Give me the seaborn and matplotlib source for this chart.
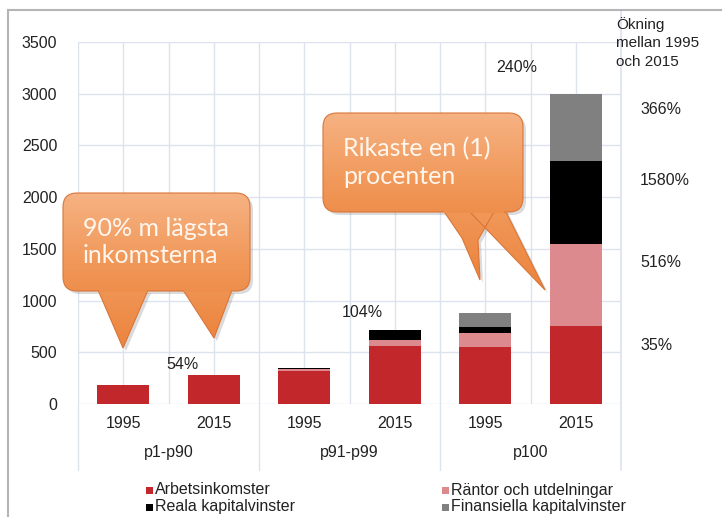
import matplotlib
matplotlib.use("Agg")
import matplotlib.pyplot as plt
import seaborn as sns
import numpy as np
import pandas as pd
from matplotlib.patches import FancyBboxPatch, Polygon, Rectangle
from matplotlib.lines import Line2D
from matplotlib.colors import LinearSegmentedColormap

# ---- data ----
categories = ["p1-p90 1995", "p1-p90 2015", "p91-p99 1995", "p91-p99 2015", "p100 1995", "p100 2015"]
year_labels = ["1995", "2015", "1995", "2015", "1995", "2015"]
group_labels = ["p1-p90", "p91-p99", "p100"]
arbets = [180, 277, 320, 560, 554, 757]
rantor = [0, 0, 15, 55, 136, 790]
reala = [0, 0, 10, 105, 50, 806]
finans = [0, 0, 5, 0, 137, 645]
series_names = ["Arbetsinkomster", "Räntor och utdelningar", "Reala kapitalvinster", "Finansiella kapitalvinster"]
colors = ["#C1272B", "#DC8A8E", "#000000", "#808080"]
growth_labels = ["54%", "104%", "240%"]
growth_pos = [(0.65, 380), (2.64, 880), (4.35, 3250)]
right_labels = ["366%", "1580%", "516%", "35%"]
right_y = [2850, 2160, 1370, 570]
note_text = "Ökning\nmellan 1995\noch 2015"
callout_texts = ["90% m lägsta\ninkomsterna", "Rikaste en (1)\nprocenten"]

W, H = 722, 517
FS = 11.5
sns.set_theme(style="white")
plt.rcParams["font.family"] = ["Liberation Sans", "DejaVu Sans"]
fig = plt.figure(figsize=(W / 100, H / 100), dpi=100)
ax = fig.add_axes([78 / W, 1 - 404 / H, (621 - 78) / W, (404 - 42) / H])

cum = [np.array(arbets)]
for s in (rantor, reala, finans):
    cum.append(cum[-1] + np.array(s))
for i in range(3, -1, -1):
    d = pd.DataFrame({"cat": categories, "val": cum[i]})
    sns.barplot(data=d, x="cat", y="val", color=colors[i], width=0.57, ax=ax,
                saturation=1, linewidth=0, zorder=3 + (3 - i) * 0.01)

ax.set_ylim(0, 3500)
ax.set_xlim(-0.5, 5.5)
ax.set_yticks(np.arange(0, 3501, 500))
ax.set_yticklabels([str(v) for v in range(0, 3501, 500)], fontsize=FS, color="#222222")
ax.set_xticks(range(6))
ax.set_xticklabels(year_labels, fontsize=FS, color="#222222")
ax.tick_params(axis="x", pad=9, length=0)
ax.tick_params(axis="y", pad=15, length=0)
ax.set_xlabel("")
ax.set_ylabel("")
for sp in ax.spines.values():
    sp.set_visible(False)
gc = "#DCE2EE"
for yv in range(0, 3501, 500):
    ax.axhline(yv, color=gc, lw=1.0, zorder=1)
for xv in np.arange(-0.5, 5.6, 0.5):
    ax.axvline(xv, color=gc, lw=1.0, zorder=1)

# group separators and labels
tr = ax.get_xaxis_transform()
for xv in [-0.5, 1.5, 3.5]:
    ax.add_line(Line2D([xv, xv], [0, -(470 - 404) / 362], transform=tr, color=gc, lw=1.0, clip_on=False))
ax.add_line(Line2D([5.5, 5.5], [-(470 - 404) / 362, 1 + 32 / 362], transform=tr, color=gc, lw=1.2, clip_on=False))
for gi, g in enumerate(group_labels):
    ax.text(gi * 2 + 0.5, -(453 - 404) / 362, g, transform=tr, ha="center", va="center",
            fontsize=FS, color="#222222")

for lab, (xv, yv) in zip(growth_labels, growth_pos):
    ax.text(xv, yv, lab, ha="center", va="center", fontsize=FS, color="#222222", zorder=6)

fig.text(616 / W, 1 - 17 / H, note_text, ha="left", va="top",
         fontsize=11, color="#222222", linespacing=1.4)
for lab, yv in zip(right_labels, right_y):
    ax.text(1 + (640 - 621) / (621 - 78), yv, lab, transform=ax.get_yaxis_transform(),
            ha="left", va="center", fontsize=FS, color="#222222")

# legend
for i, (name, c) in enumerate(zip(series_names, colors)):
    col = i % 2
    row = i // 2
    x0 = [146, 442][col]
    y0 = [490, 507][row]
    fig.patches.append(Rectangle((x0 / W, 1 - (y0 + 4) / H), 7 / W, 7 / H, transform=fig.transFigure,
                                 facecolor=c, edgecolor="none"))
    fig.text((x0 + 9) / W, 1 - y0 / H, name, ha="left", va="center", fontsize=FS, color="#222222")

# outer frame
fig.patches.append(Rectangle((8 / W, -0.05), 1.0, 1 - 10 / H + 0.05, transform=fig.transFigure,
                             fill=False, edgecolor="#B5B5B5", lw=1.5))

# ---- callouts on an overlay axes in pixel coordinates ----
ov = fig.add_axes([0, 0, 1, 1], zorder=5)
ov.set_xlim(0, W)
ov.set_ylim(H, 0)
ov.axis("off")
ov.patch.set_alpha(0)

grad = np.linspace(0, 1, 256).reshape(-1, 1)
cmap = LinearSegmentedColormap.from_list("og", ["#F6B283", "#F19A5C", "#EC843E"])


def filled(patch, y0, y1, z):
    patch.set_facecolor("none")
    patch.set_zorder(z + 0.1)
    ov.add_patch(patch)
    im = ov.imshow(grad, cmap=cmap, extent=[0, W, y1, y0], aspect="auto", zorder=z,
                   interpolation="bilinear")
    im.set_clip_path(patch)


def shadow(pts=None, box=None):
    d = 3
    if pts is not None:
        ov.add_patch(Polygon([(x + d, y + d) for x, y in pts], closed=True, facecolor="#888888",
                             edgecolor="none", alpha=0.3, zorder=1))
    if box is not None:
        x0, y0, x1, y1 = box
        ov.add_patch(FancyBboxPatch((x0 + d, y0 + d), x1 - x0, y1 - y0,
                                    boxstyle="round,pad=0,rounding_size=14", facecolor="#888888",
                                    edgecolor="none", alpha=0.3, zorder=1))


def callout(box, tails, text, tx_off):
    x0, y0, x1, y1 = box
    ec = "#D9763A"
    for pts in tails:
        shadow(pts=pts)
    shadow(box=box)
    for pts in tails:
        p = Polygon(pts, closed=True, edgecolor=ec, lw=0.8)
        filled(p, y0, max(y for _, y in pts), 2)
    b = FancyBboxPatch((x0, y0), x1 - x0, y1 - y0, boxstyle="round,pad=0,rounding_size=14",
                       edgecolor=ec, lw=0.8)
    filled(b, y0, y1 + 30, 3)
    for pts in tails:
        p2 = Polygon([(pts[0][0] + 1, y1 - 4), (pts[1][0] - 1, y1 - 4), (pts[1][0] - 1, y1 + 1),
                      (pts[0][0] + 1, y1 + 1)], closed=True, edgecolor="none")
        filled(p2, y0, y1 + 30, 4)
    ov.text(x0 + tx_off, (y0 + y1) / 2, text, ha="left", va="center", fontsize=18,
            family=["Lato", "DejaVu Sans"], color="#FFF6EE", zorder=6, linespacing=1.25)


callout((63, 193, 250, 291),
        [[(98, 290), (148, 290), (123, 348)], [(183, 290), (232, 290), (214, 338)]],
        callout_texts[0], 20)
callout((323, 113, 523, 212),
        [[(443, 210), (495, 210), (478, 240), (480, 280), (462, 238)],
         [(468, 210), (505, 210), (545, 290)]],
        callout_texts[1], 20)

fig.savefig("out.png", dpi=100)
